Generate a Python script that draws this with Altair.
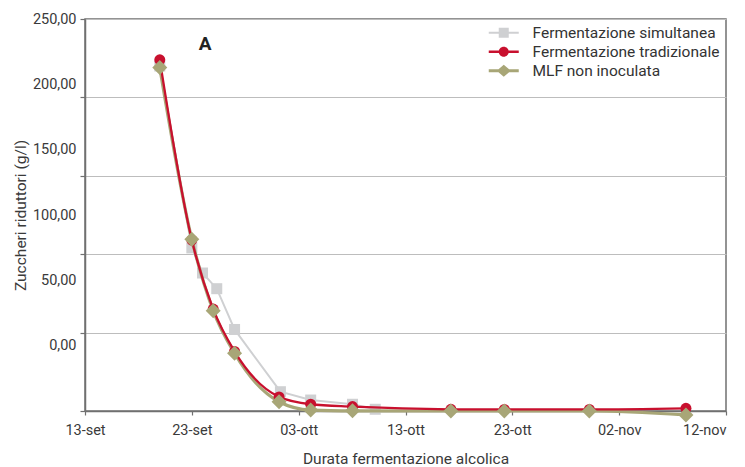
import altair as alt
import pandas as pd

# ---------------- data ----------------
series_names = ["Fermentazione simultanea", "Fermentazione tradizionale", "MLF non inoculata"]
series_colors = ["#cfd0d2", "#c8102e", "#a8a677"]

sim_dates = ["2010-09-20T00:00:00Z", "2010-09-23T00:00:00Z", "2010-09-24T00:00:00Z",
             "2010-09-25T08:00:00Z", "2010-09-27T00:00:00Z", "2010-10-01T07:00:00Z",
             "2010-10-04T03:00:00Z", "2010-10-08T01:00:00Z", "2010-10-10T04:00:00Z"]
sim_values = [220, 104, 88, 78, 52, 12.3, 7.0, 4.3, 1.1]

trad_dates = ["2010-09-20T00:00:00Z", "2010-09-23T00:00:00Z", "2010-09-25T00:00:00Z",
              "2010-09-27T00:00:00Z", "2010-10-01T04:00:00Z", "2010-10-04T03:00:00Z",
              "2010-10-08T01:00:00Z", "2010-10-17T06:00:00Z", "2010-10-22T06:00:00Z",
              "2010-10-30T05:00:00Z", "2010-11-08T06:00:00Z"]
trad_values = [224, 109, 65, 38, 9.0, 4.3, 2.8, 1.1, 1.0, 1.0, 1.7]

mlf_dates = trad_dates
mlf_values = [219, 109.5, 64, 36.8, 5.9, 0.6, 0.1, 0.0, 0.0, 0.0, -2.5]

x_tick_labels = ["13-set", "23-set", "03-ott", "13-ott", "23-ott", "02-nov", "12-nov"]
x_tick_dates = [(2010, 9, 13), (2010, 9, 23), (2010, 10, 3), (2010, 10, 13),
                (2010, 10, 23), (2010, 11, 2), (2010, 11, 12)]

y_grid_values = [0, 50, 100, 150, 200, 250]
y_tick_labels = ["0,00", "50,00", "100,00", "150,00", "200,00", "250,00"]

annot_text = ["A"]
annot_dates = ["2010-09-24T06:00:00Z"]
annot_values = [234]

# ---------------- tables ----------------
rows = []
for name, dates, vals in [(series_names[0], sim_dates, sim_values),
                          (series_names[1], trad_dates, trad_values),
                          (series_names[2], mlf_dates, mlf_values)]:
    for d, v in zip(dates, vals):
        rows.append({"serie": name, "data": d, "zuccheri": v})
df = pd.DataFrame(rows)
annot_df = pd.DataFrame({"data": annot_dates, "zuccheri": annot_values, "label": annot_text})

FONT = "Roboto"
start_ms = int(pd.Timestamp("2010-09-13", tz="UTC").value // 10**6)
end_ms = int(pd.Timestamp("2010-11-12", tz="UTC").value // 10**6)
label_expr_x = ("[" + ",".join("'%s'" % s for s in x_tick_labels) + "]"
                "[round((datum.value - %d) / 864000000)]" % start_ms)
# the last label sits on the page edge: align it to the right so it stays visible
last_test = "datum.value >= %d" % end_ms

x_enc = alt.X(
    "data:T",
    scale=alt.Scale(type="utc",
                    domain=[alt.DateTime(year=2010, month=9, date=13, utc=True),
                            alt.DateTime(year=2010, month=11, date=12, utc=True)]),
    axis=alt.Axis(
        values=[alt.DateTime(year=y, month=m, date=d, utc=True) for (y, m, d) in x_tick_dates],
        labelExpr=label_expr_x, grid=False, tickSize=4, labelPadding=8,
        labelAlign={"condition": {"test": last_test, "value": "right"}, "value": "center"},
        title="Durata fermentazione alcolica", titlePadding=15,
        labelFontSize=14.5, titleFontSize=15.5, labelFlush=False, labelOverlap=False,
    ),
)

y_data = alt.Y(
    "zuccheri:Q",
    scale=alt.Scale(domain=[0, 250], nice=False, zero=False),
    axis=alt.Axis(values=y_grid_values, labels=False, ticks=True, tickSize=5,
                  grid=True, gridColor="#bdbdbd", gridWidth=1, title=None, orient="left"),
)

base = alt.Chart(df)
shapes = ["square", "circle", "diamond"]
sizes = [121, 121, 225]
widths = [2, 2.3, 3.2]
interps = ["linear", "monotone", "monotone"]

line_layers = {}
point_layers = {}
for name, col, shp, sz, w, ip in zip(series_names, series_colors, shapes, sizes, widths, interps):
    f = base.transform_filter(alt.datum.serie == name)
    line_layers[name] = f.mark_line(color=col, strokeWidth=w, interpolate=ip).encode(x=x_enc, y=y_data)
    point_layers[name] = f.mark_point(shape=shp, filled=True, size=sz, color=col, opacity=1,
                                      strokeWidth=0).encode(x=x_enc, y=y_data)

annot = alt.Chart(annot_df).mark_text(font=FONT, fontSize=19, fontWeight="bold",
                                       color="#222222", baseline="middle").encode(
    x=x_enc, y=y_data, text="label:N")

data_chart = alt.layer(
    line_layers[series_names[0]], point_layers[series_names[0]],
    line_layers[series_names[2]], line_layers[series_names[1]],
    point_layers[series_names[1]], point_layers[series_names[2]],
    annot,
)

# axis with the (shifted) value labels
labels_layer = alt.Chart(df).transform_filter("false").mark_point(opacity=0).encode(
    y=alt.Y("zuccheri:Q",
            scale=alt.Scale(domain=[-50, 250], nice=False, zero=False),
            axis=alt.Axis(values=y_grid_values,
                          labelExpr="[" + ",".join("'%s'" % s for s in y_tick_labels) + "][round(datum.value / 50)]",
                          ticks=False, domain=False, grid=False, labelPadding=9, orient="left",
                          title="Zuccheri riduttori (g/l)", titlePadding=4,
                          labelFontSize=14.5, titleFontSize=15.5)))

# legend layer (line + marker symbols)
legend_paths = [
    "M-3,-0.2H3V0.2H-3Z M-1,-1H1V1H-1Z",
    "M-3,-0.25H3V0.25H-3Z M1,0A1,1 0 1,1 -1,0A1,1 0 1,1 1,0Z",
    "M-3,-0.3H3V0.3H-3Z M0,-1.2L1.4,0L0,1.2L-1.4,0Z",
]
legend_layer = alt.Chart(df).transform_filter("false").mark_point(filled=True, opacity=1).encode(
    color=alt.Color("serie:N", scale=alt.Scale(domain=series_names, range=series_colors),
                    legend=alt.Legend(title=None)),
    shape=alt.Shape("serie:N", scale=alt.Scale(domain=series_names, range=legend_paths),
                    legend=alt.Legend(title=None)),
)

chart = alt.layer(data_chart, labels_layer, legend_layer).resolve_scale(
    y="independent"
).properties(
    width=641, height=392,
    autosize=alt.AutoSizeParams(type="none"),
    padding={"left": 77, "top": 11, "right": 11, "bottom": 56},
).configure_view(
    stroke="#707070", strokeWidth=1.5,
).configure_axis(
    domainColor="#707070", domainWidth=1.5, tickColor="#707070", tickWidth=1.2,
    labelFont=FONT, titleFont=FONT, labelColor="#3a3a3a", titleColor="#3a3a3a",
    titleFontWeight="normal",
).configure_legend(
    orient="top-right", offset=6, padding=0, rowPadding=2,
    symbolSize=100, symbolOffset=10, labelOffset=21, symbolStrokeWidth=0,
    labelFont=FONT, labelFontSize=15.5, labelColor="#333333", labelLimit=400,
)

chart.save("out.html", embed_options={"renderer": "svg", "actions": False})
